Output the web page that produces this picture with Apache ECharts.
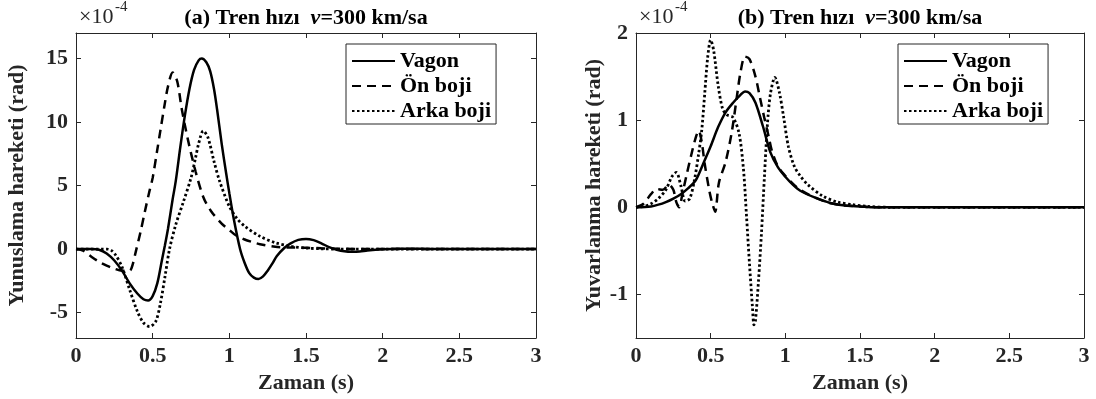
<!DOCTYPE html>
<html>
<head>
<meta charset="utf-8">
<script src="https://cdn.jsdelivr.net/npm/echarts@6/dist/echarts.min.js"></script>
<style>
  html, body { margin: 0; padding: 0; background: #fff; }
  #chart { width: 1096px; height: 399px; }
</style>
</head>
<body>
<div id="chart"></div>
<script>
// Values are in units of 1e-4 rad (the axes carry a ×10^-4 multiplier).

// (a) Pitch response — Yunuslama
const pitchCarT = [0, 0.1, 0.15, 0.2, 0.25, 0.3, 0.35, 0.4, 0.44, 0.47, 0.5, 0.53, 0.56, 0.58, 0.6, 0.63, 0.65, 0.68, 0.71, 0.74, 0.77, 0.8, 0.82, 0.85, 0.875, 0.9, 0.92, 0.95, 0.98, 1.0, 1.03, 1.07, 1.1, 1.13, 1.16, 1.19, 1.22, 1.25, 1.28, 1.31, 1.36, 1.4, 1.45, 1.5, 1.55, 1.6, 1.65, 1.7, 1.75, 1.8, 1.85, 1.9, 2.0, 2.1, 2.2, 2.3, 2.5, 3.0];
const pitchCarV = [0, 0, -0.05, -0.35, -0.9, -1.7, -2.7, -3.5, -3.95, -4.05, -3.7, -2.7, -0.9, 0.3, 1.6, 3.9, 5.3, 8.0, 10.5, 12.6, 14.1, 14.85, 15.0, 14.7, 14.0, 12.6, 11.0, 8.3, 5.9, 4.4, 2.3, 0, -1.1, -1.9, -2.25, -2.36, -2.15, -1.7, -1.15, -0.55, 0.1, 0.45, 0.72, 0.8, 0.7, 0.45, 0.15, -0.05, -0.18, -0.22, -0.2, -0.12, -0.02, 0.03, 0.03, 0.0, 0, 0];

const pitchFrontT = [0, 0.05, 0.1, 0.15, 0.2, 0.25, 0.3, 0.35, 0.37, 0.39, 0.42, 0.45, 0.48, 0.5, 0.53, 0.55, 0.58, 0.6, 0.63, 0.66, 0.69, 0.73, 0.78, 0.83, 0.88, 0.95, 1.0, 1.04, 1.1, 1.15, 1.2, 1.3, 1.4, 1.5, 1.6, 1.7, 1.8, 2.0, 3.0];
const pitchFrontV = [0, -0.15, -0.6, -1.0, -1.3, -1.55, -1.7, -1.7, -1.2, -0.2, 1.3, 3.0, 4.6, 5.6, 7.8, 9.3, 11.5, 12.8, 13.9, 13.2, 11.0, 8.6, 6.1, 4.1, 3.0, 2.0, 1.5, 1.1, 0.75, 0.55, 0.38, 0.18, 0.12, 0.1, 0.06, 0.03, 0.01, 0, 0];

const pitchRearT = [0, 0.2, 0.23, 0.26, 0.3, 0.35, 0.4, 0.44, 0.48, 0.52, 0.55, 0.58, 0.61, 0.65, 0.7, 0.75, 0.78, 0.8, 0.83, 0.86, 0.9, 0.935, 1.0, 1.05, 1.1, 1.2, 1.3, 1.4, 1.5, 1.6, 1.7, 2.0, 3.0];
const pitchRearV = [0, 0, -0.1, -0.5, -1.4, -3.2, -4.9, -5.8, -6.1, -5.7, -4.3, -2.2, 0.0, 1.9, 3.7, 5.6, 7.2, 8.3, 9.3, 8.8, 6.9, 5.4, 3.35, 2.4, 1.8, 1.0, 0.5, 0.22, 0.08, 0.02, 0, 0, 0];

// (b) Roll response — Yuvarlanma
const rollCarT = [0, 0.1, 0.15, 0.2, 0.25, 0.3, 0.35, 0.4, 0.45, 0.5, 0.55, 0.6, 0.65, 0.7, 0.73, 0.76, 0.8, 0.85, 0.9, 0.95, 1.0, 1.05, 1.1, 1.2, 1.3, 1.4, 1.5, 1.6, 3.0];
const rollCarV = [0, 0.01, 0.03, 0.06, 0.1, 0.15, 0.22, 0.31, 0.5, 0.7, 0.92, 1.09, 1.2, 1.29, 1.33, 1.31, 1.2, 0.93, 0.63, 0.46, 0.35, 0.26, 0.19, 0.11, 0.05, 0.02, 0.01, 0, 0];

const rollFrontT = [0, 0.05, 0.1, 0.14, 0.18, 0.22, 0.25, 0.27, 0.29, 0.31, 0.34, 0.37, 0.4, 0.42, 0.44, 0.46, 0.49, 0.51, 0.53, 0.555, 0.6, 0.64, 0.67, 0.7, 0.73, 0.76, 0.8, 0.83, 0.86, 0.89, 0.91, 0.95, 1.0, 1.05, 1.1, 1.2, 1.3, 1.4, 1.5, 1.6, 3.0];
const rollFrontV = [0, 0.04, 0.15, 0.21, 0.2, 0.26, 0.2, 0.06, 0.0, 0.15, 0.38, 0.6, 0.8, 0.88, 0.75, 0.5, 0.2, 0.05, -0.05, 0.28, 0.52, 0.85, 1.2, 1.55, 1.73, 1.7, 1.5, 1.26, 1.02, 0.8, 0.65, 0.47, 0.36, 0.27, 0.2, 0.11, 0.05, 0.02, 0.01, 0, 0];

const rollRearT = [0, 0.05, 0.1, 0.15, 0.2, 0.24, 0.27, 0.3, 0.33, 0.36, 0.39, 0.42, 0.44, 0.46, 0.48, 0.5, 0.52, 0.55, 0.58, 0.61, 0.65, 0.69, 0.72, 0.74, 0.76, 0.78, 0.79, 0.8, 0.82, 0.84, 0.86, 0.88, 0.9, 0.93, 0.96, 0.99, 1.02, 1.06, 1.1, 1.15, 1.25, 1.35, 1.45, 1.55, 1.7, 3.0];
const rollRearV = [0, 0.01, 0.04, 0.1, 0.2, 0.35, 0.4, 0.25, 0.07, 0.1, 0.3, 0.62, 0.88, 1.3, 1.72, 1.92, 1.8, 1.4, 1.13, 1.06, 1.03, 0.85, 0.43, -0.1, -0.65, -1.15, -1.35, -1.3, -0.85, -0.3, 0.35, 0.95, 1.3, 1.49, 1.32, 1.02, 0.7, 0.47, 0.36, 0.26, 0.13, 0.06, 0.03, 0.01, 0, 0];

const seriesNames = ['Vagon', 'Ön boji', 'Arka boji'];
const xTicks = [0, 0.5, 1, 1.5, 2, 2.5, 3];
const pitchTicks = [-5, 0, 5, 10, 15];
const rollTicks = [-1, 0, 1, 2];

const FONT = '"Liberation Serif", "Times New Roman", serif';
const INK = '#262626';
const FS = 22;

const zip = (t, v) => t.map((x, i) => [x, v[i]]);

const lineStyles = [
  { type: 'solid', width: 2.5 },
  { type: [9, 6], width: 2.5 },
  { type: [2.5, 2.5], width: 2.8 }
];

function xAxisPair(gi) {
  const common = {
    type: 'value', gridIndex: gi, min: 0, max: 3, interval: 0.5,
    axisLine: { show: true, onZero: false, lineStyle: { color: INK, width: 1 } },
    axisTick: { show: true, inside: true, length: 5, customValues: xTicks, lineStyle: { color: INK } },
    splitLine: { show: false }
  };
  return [
    Object.assign({}, common, {
      position: 'bottom',
      name: 'Zaman (s)', nameLocation: 'middle', nameGap: 32,
      nameTextStyle: { fontFamily: FONT, fontWeight: 'bold', fontSize: FS, color: INK },
      axisLabel: { customValues: xTicks, fontFamily: FONT, fontWeight: 'bold', fontSize: FS, color: INK, margin: 7 }
    }),
    Object.assign({}, common, { position: 'top', axisLabel: { show: false } })
  ];
}

function yAxisPair(gi, min, max, ticks, name, gap) {
  const common = {
    type: 'value', gridIndex: gi, min: min, max: max,
    axisLine: { show: true, onZero: false, lineStyle: { color: INK, width: 1 } },
    axisTick: { show: true, inside: true, length: 5, customValues: ticks, lineStyle: { color: INK } },
    splitLine: { show: false }
  };
  return [
    Object.assign({}, common, {
      position: 'left',
      name: name, nameLocation: 'middle', nameGap: gap,
      nameTextStyle: { fontFamily: FONT, fontWeight: 'bold', fontSize: FS, color: INK },
      axisLabel: { customValues: ticks, fontFamily: FONT, fontWeight: 'bold', fontSize: FS, color: INK, margin: 8 }
    }),
    Object.assign({}, common, { position: 'right', axisLabel: { show: false } })
  ];
}

function makeSeries(xi, yi, sets) {
  return sets.map((d, k) => ({
    type: 'line', name: seriesNames[k], xAxisIndex: xi, yAxisIndex: yi,
    data: zip(d[0], d[1]), symbol: 'none', showSymbol: false, smooth: 0.3,
    lineStyle: Object.assign({ color: '#000' }, lineStyles[k]),
    itemStyle: { color: '#000' }
  }));
}

function legendAt(left) {
  return {
    data: seriesNames, orient: 'vertical', left: left, top: 44,
    itemWidth: 43, itemHeight: 14, itemGap: 3, padding: [6, 5, 2, 5],
    itemStyle: { opacity: 0, color: 'transparent', borderColor: 'transparent', borderWidth: 0 },
    borderColor: INK, borderWidth: 1, backgroundColor: '#fff',
    textStyle: { fontFamily: FONT, fontWeight: 'bold', fontSize: 22, color: '#000' },
    selectedMode: false
  };
}

function titleText(x, label) {
  return {
    type: 'text', x: x, y: 18,
    style: {
      text: '{b|' + label + ' Tren hızı  }{i|v}{b|=300 km/sa}',
      align: 'center', verticalAlign: 'middle',
      rich: {
        b: { fontFamily: FONT, fontWeight: 'bold', fontSize: 22, fill: '#000' },
        i: { fontFamily: FONT, fontWeight: 'bold', fontStyle: 'italic', fontSize: 22, fill: '#000' }
      }
    }
  };
}

function exponent(x) {
  return [
    { type: 'text', x: x, y: 17, style: { text: '×10', fontFamily: FONT, fontSize: 22, fill: INK, verticalAlign: 'middle' } },
    { type: 'text', x: x + 36, y: 7, style: { text: '-4', fontFamily: FONT, fontSize: 15, fill: INK, verticalAlign: 'middle' } }
  ];
}

const chart = echarts.init(document.getElementById('chart'), null, { renderer: 'canvas' });
chart.setOption({
  animation: false,
  backgroundColor: '#fff',
  grid: [
    { left: 76, top: 33, width: 460, height: 305 },
    { left: 636, top: 33, width: 448, height: 305 }
  ],
  xAxis: [].concat(xAxisPair(0), xAxisPair(1)),
  yAxis: [].concat(
    yAxisPair(0, -7, 17, pitchTicks, 'Yunuslama hareketi (rad)', 48),
    yAxisPair(1, -1.5, 2, rollTicks, 'Yuvarlanma hareketi (rad)', 31)
  ),
  legend: [legendAt(346), legendAt(898)],
  series: [].concat(
    makeSeries(0, 0, [[pitchCarT, pitchCarV], [pitchFrontT, pitchFrontV], [pitchRearT, pitchRearV]]),
    makeSeries(2, 2, [[rollCarT, rollCarV], [rollFrontT, rollFrontV], [rollRearT, rollRearV]])
  ),
  graphic: [titleText(306, '(a)'), titleText(860, '(b)')].concat(exponent(79), exponent(639))
});
</script>
</body>
</html>
